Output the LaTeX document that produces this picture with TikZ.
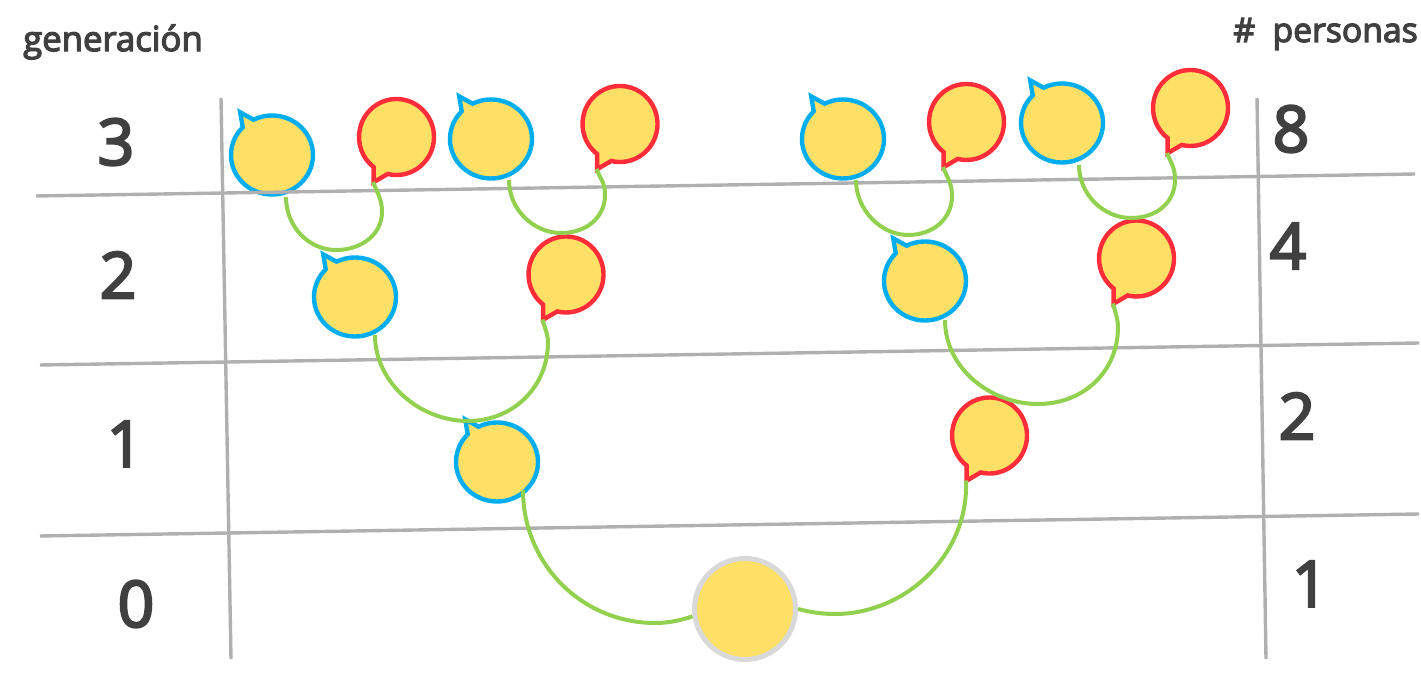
\documentclass[tikz,border=0pt]{standalone}
\usepackage{fontspec}
\setmainfont{Open Sans}[FakeBold=3.6]
\definecolor{fillY}{HTML}{FFE066}
\definecolor{blueS}{HTML}{00AEEF}
\definecolor{redS}{HTML}{FF2D3A}
\definecolor{greenL}{HTML}{92D050}
\definecolor{greyL}{HTML}{B0B0B0}
\definecolor{greyC}{HTML}{D9D9D9}
\definecolor{txt}{HTML}{404040}
\usetikzlibrary{calc}
\tikzset{
  x=1pt,y=1pt,
  bub/.style={fill=fillY,line width=4.4pt,line join=miter,miter limit=4},
  grid/.style={draw=greyL,line width=3.4pt},
  link/.style={draw=greenL,line width=4pt},
  anchorpt/.style={circle,inner sep=0pt,minimum size=78pt},
  big/.style={font=\fontsize{64}{64}\selectfont,text=txt,inner sep=0pt},
  head/.style={font=\fontsize{33.7}{34}\selectfont,text=txt,inner sep=0pt}
}
% male bubble: tail at the upper left
\newcommand{\malebub}[3]{%
  \node[anchorpt] (#1) at (#2,688-#3) {};
  \draw[bub,draw=blueS] (#1.center) ++(116.7:41 and 39.5)
    arc[start angle=116.7,end angle=-224.4,x radius=41,y radius=39.5]
    -- ++(-2.5,15) -- cycle;
}
% female bubble: tail at the lower left; (name-t) is the tail tip
\newcommand{\femalebub}[3]{%
  \node[anchorpt] (#1) at (#2,688-#3) {};
  \draw[bub,draw=redS] (#1.center) ++(-103.5:37.5 and 38)
    arc[start angle=-103.5,end angle=232.5,x radius=37.5,y radius=38]
    -- ++(0,-15) -- cycle;
  \coordinate (#1-t) at ($(#1.center)+(-23.5,-45)$);
}
\begin{document}
\begin{tikzpicture}
\useasboundingbox (0,0) rectangle (1421,688);
% bubbles
\malebub{m1}{272}{155}
\femalebub{f1}{396.5}{137}
\malebub{m2}{491}{139}
\femalebub{f2}{620}{124}
\malebub{m3}{843}{139}
\femalebub{f3}{966.5}{122}
\malebub{m4}{1062}{123}
\femalebub{f4}{1190.5}{108}
\malebub{m5}{355}{297}
\femalebub{f5}{566}{274.5}
\malebub{m6}{925}{281}
\femalebub{f6}{1136.5}{258.5}
\malebub{m7}{497}{462}
\femalebub{f7}{989.5}{435.5}
% grid
\coordinate (v1a) at (221,688-98);   \coordinate (v1b) at (231,688-659);
\coordinate (v2a) at (1257,688-98);  \coordinate (v2b) at (1266,688-659);
\coordinate (h1a) at (36,688-196);   \coordinate (h1b) at (1415,688-174);
\coordinate (h2a) at (40,688-365);   \coordinate (h2b) at (1419,688-343);
\coordinate (h3a) at (40,688-536);   \coordinate (h3b) at (1419,688-514);
\draw[grid] (v1a) -- (v1b);
\draw[grid] (v2a) -- (v2b);
\draw[grid] (h1a) -- (h1b);
\draw[grid] (h2a) -- (h2b);
\draw[grid] (h3a) -- (h3b);
% connectors
\coordinate (s1) at (286,688-197);  \coordinate (b1) at (336,688-250); \coordinate (r1) at (382,688-212);
\coordinate (s2) at (509,688-180);  \coordinate (b2) at (561,688-233); \coordinate (r2) at (605,688-195);
\coordinate (s3) at (856,688-180);  \coordinate (b3) at (908,688-235); \coordinate (r3) at (952,688-196);
\coordinate (s4) at (1079,688-165); \coordinate (b4) at (1131,688-218);\coordinate (r4) at (1175,688-180);
\coordinate (s5) at (375,688-335);  \coordinate (b5) at (468,688-421); \coordinate (r5) at (548,688-342);
\coordinate (s6) at (945,688-320);  \coordinate (b6) at (1038,688-404);\coordinate (r6) at (1118,688-327);
\foreach \i in {1,2,3,4}{
  \draw[link] (s\i) .. controls +(0,-30) and +(-27,0) .. (b\i)
     .. controls +(26,0) and +(0,-22) .. (r\i)
     .. controls +(0,12) and +(5,-12) .. (f\i-t);
}
\foreach \i in {5,6}{
  \draw[link] (s\i) .. controls +(0,-48) and +(-48,0) .. (b\i)
     .. controls +(45,0) and +(0,-45) .. (r\i)
     .. controls +(0,8) and +(2,-8) .. (f\i-t);
}
\node[circle,fill=fillY,draw=greyC,line width=5pt,minimum size=101pt,inner sep=0pt] (big) at (745,688-609) {};
\coordinate (s7) at (523,688-490); \coordinate (b7) at (655,688-623);
\coordinate (b8) at (835,688-614);
\draw[link] (s7) .. controls +(0,-75) and +(-72,0) .. (b7)
   .. controls +(14,0) and +(-12,-4) .. (big.188);
\draw[link] (f7-t) .. controls +(3,-75) and +(70,0) .. (b8)
   .. controls +(-14,0) and +(12,-3) .. (big.east);
% texts
\node[head,font=\fontsize{34.7}{35}\selectfont] (g) at (113,688-42) {generación};
\node[head,anchor=east] (p) at (1418,688-34) {\#\ \ personas};
\node[big] (l3) at (116,688-142) {3};
\node[big] (l2) at (118,688-275) {2};
\node[big] (l1) at (125,688-444) {1};
\node[big] (l0) at (136,688-604) {0};
\node[big] (n8) at (1291,688-129) {8};
\node[big] (n4) at (1288,688-246) {4};
\node[big] (n2) at (1297,688-416) {2};
\node[big] (n1) at (1310,688-584) {1};
\end{tikzpicture}
\end{document}
